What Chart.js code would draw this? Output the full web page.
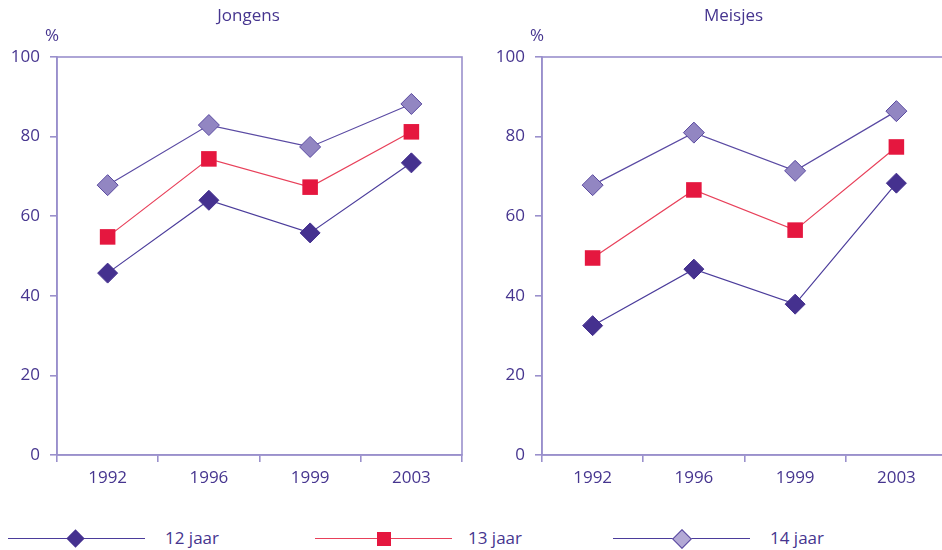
<!DOCTYPE html>
<html>
<head>
<meta charset="utf-8">
<script src="https://cdn.jsdelivr.net/npm/chart.js@4.4.1/dist/chart.umd.min.js"></script>
<style>
  html, body { margin: 0; padding: 0; background: #fff; overflow: hidden; }
  body { width: 942px; height: 550px; position: relative; font-family: "Open Sans", sans-serif; color: #46358f; }
  #c1 { position: absolute; left: 0; top: 0; }
  #c2 { position: absolute; left: 470px; top: 0; }
  .lline { position: absolute; height: 0; border-top: 1.5px solid #4b3c9b; top: 538px; }
  .sym { position: absolute; }
  .ltext { position: absolute; top: 526px; font-size: 17px; line-height: 24px; }
</style>
</head>
<body>
<canvas id="c1" width="470" height="500"></canvas>
<canvas id="c2" width="480" height="500"></canvas>

<div class="lline" style="left:8px;width:137px;"></div>
<div class="sym" style="left:69px;top:532px;width:13px;height:13px;background:#45318f;transform:rotate(45deg);"></div>
<div class="ltext" style="left:165px;">12 jaar</div>

<div class="lline" style="left:315px;width:137px;border-color:#e8405a;"></div>
<div class="sym" style="left:377px;top:532px;width:14px;height:14px;background:#e5173f;"></div>
<div class="ltext" style="left:468px;">13 jaar</div>

<div class="lline" style="left:613px;width:137px;"></div>
<div class="sym" style="left:675px;top:532px;width:12px;height:12px;background:#b3a9d5;border:1px solid #5a4aa0;transform:rotate(45deg);"></div>
<div class="ltext" style="left:770px;">14 jaar</div>

<script>
// years on the x axis
const years = ['1992', '1996', '1999', '2003'];

// Jongens
const boys12 = [45.7, 64, 55.8, 73.4];
const boys13 = [54.8, 74.4, 67.3, 81.2];
const boys14 = [67.8, 82.9, 77.4, 88.2];

// Meisjes
const girls12 = [32.5, 46.7, 37.9, 68.3];
const girls13 = [49.5, 66.6, 56.5, 77.4];
const girls14 = [67.8, 81, 71.4, 86.4];

const yTicks = [0, 20, 40, 60, 80, 100];

const textColor = '#46358f';
const axisColor = '#9a90cc';
const font = { family: 'Open Sans', size: 17 };

// frame round the plot, title and the % sign
const frame = {
  id: 'frame',
  afterDraw(chart, args, opts) {
    const a = chart.chartArea;
    const ctx = chart.ctx;
    ctx.save();
    ctx.strokeStyle = axisColor;
    ctx.lineWidth = 1.6;
    ctx.strokeRect(a.left, a.top, a.right - a.left, a.bottom - a.top);
    ctx.fillStyle = textColor;
    ctx.textAlign = 'center';
    ctx.textBaseline = 'middle';
    ctx.font = '17px "Open Sans"';
    ctx.fillText(opts.title, (a.left + a.right) / 2 - 11, 16);
    ctx.fillText('%', a.left - 5, a.top - 21);
    ctx.restore();
  }
};

function makeChart(id, title, d12, d13, d14, yWidth, padRight) {
  return new Chart(document.getElementById(id), {
    type: 'line',
    data: {
      labels: years,
      datasets: [
        {
          label: '12 jaar',
          data: d12,
          borderColor: '#4b3c9b',
          borderWidth: 1.2,
          pointStyle: 'rectRot',
          pointRadius: 10,
          pointBackgroundColor: '#45318f',
          pointBorderColor: '#45318f',
          pointBorderWidth: 1
        },
        {
          label: '13 jaar',
          data: d13,
          borderColor: '#e8405a',
          borderWidth: 1.2,
          pointStyle: 'rect',
          pointRadius: 11,
          pointBackgroundColor: '#e5173f',
          pointBorderColor: '#e5173f',
          pointBorderWidth: 0
        },
        {
          label: '14 jaar',
          data: d14,
          borderColor: '#5a4aa3',
          borderWidth: 1.2,
          pointStyle: 'rectRot',
          pointRadius: 10.5,
          pointBackgroundColor: '#9286c2',
          pointBorderColor: '#5a4aa0',
          pointBorderWidth: 1
        }
      ]
    },
    options: {
      responsive: false,
      animation: false,
      events: [],
      layout: { autoPadding: false, padding: { top: 57, right: padRight, left: 0, bottom: 0 } },
      plugins: {
        legend: { display: false },
        tooltip: { enabled: false },
        frame: { title: title }
      },
      scales: {
        x: {
          offset: true,
          grid: { offset: true, drawOnChartArea: false, tickLength: 7, color: axisColor, lineWidth: 1.6 },
          border: { color: axisColor, width: 1.6 },
          ticks: { color: textColor, font: font, padding: 6, maxRotation: 0 },
          afterFit(scale) { scale.height = 45; }
        },
        y: {
          min: 0,
          max: 100,
          afterBuildTicks(scale) { scale.ticks = yTicks.map(v => ({ value: v })); },
          grid: { drawOnChartArea: false, tickLength: 7, color: axisColor, lineWidth: 1.6 },
          border: { color: axisColor, width: 1.6 },
          ticks: { color: textColor, font: font, padding: 10 },
          afterFit(scale) { scale.width = yWidth; }
        }
      }
    },
    plugins: [frame]
  });
}

makeChart('c1', 'Jongens', boys12, boys13, boys14, 57, 8);
makeChart('c2', 'Meisjes', girls12, girls13, girls14, 72, 3);
</script>
</body>
</html>
